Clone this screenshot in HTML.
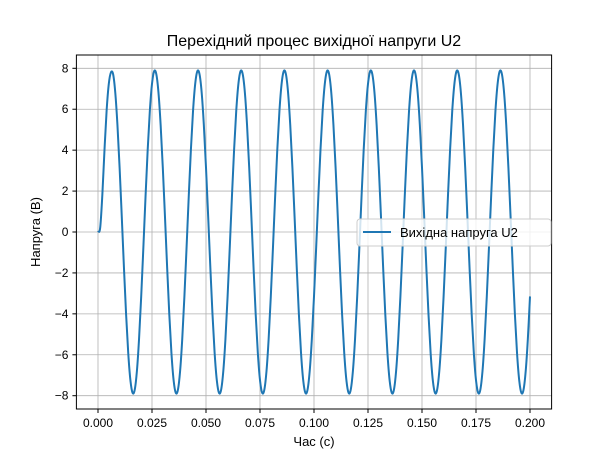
<!DOCTYPE html>
<html><head><meta charset="utf-8"><style>
body{margin:0;background:#fff;}
svg{display:block;font-family:"Liberation Sans","DejaVu Sans",sans-serif;}
</style></head><body>
<svg id="chart" width="600" height="465">
<rect width="600" height="465" fill="#fff"/>
<text x="314" y="46" text-anchor="middle" font-size="16" fill="#000">Перехідний процес вихідної напруги U2</text>
<g id="grid"></g>
<g id="xticks"></g>
<g id="yticks"></g>
<path id="line" fill="none" stroke="#1f77b4" stroke-width="2" stroke-linejoin="round"/>
<rect x="76.4" y="55" width="475.2" height="354" fill="none" stroke="#000" stroke-width="1"/>
<text x="314" y="446" text-anchor="middle" font-size="13">Час (с)</text>
<text transform="translate(40,232) rotate(-90)" text-anchor="middle" font-size="13">Напруга (В)</text>
<g>
<rect x="357" y="219" width="194" height="27" rx="3" fill="#fff" fill-opacity="0.8" stroke="#ccc"/>
<line x1="363" y1="232" x2="391" y2="232" stroke="#1f77b4" stroke-width="2"/>
<text x="400" y="237" font-size="13">Вихідна напруга U2</text>
</g>
</svg>
<script>
const xTicks=[0,0.025,0.05,0.075,0.1,0.125,0.15,0.175,0.2];
const xTickLabels=["0.000","0.025","0.050","0.075","0.100","0.125","0.150","0.175","0.200"];
const yTicks=[-8,-6,-4,-2,0,2,4,6,8];
const tStep=0.001;
const u2Values=[
0,0.2,1.8,4.0,5.95,7.24,7.8,7.71,6.81,5.23,3.15,0.76,-1.71,-4.01,-5.92,-7.24,-7.86,-7.71,-6.81,-5.23,
-3.15,-0.76,1.71,4.01,5.92,7.24,7.86,7.71,6.81,5.23,3.15,0.76,-1.71,-4.01,-5.92,-7.24,-7.86,-7.71,-6.81,-5.23,
-3.15,-0.76,1.71,4.01,5.92,7.24,7.86,7.71,6.81,5.23,3.15,0.76,-1.71,-4.01,-5.92,-7.24,-7.86,-7.71,-6.81,-5.23,
-3.15,-0.76,1.71,4.01,5.92,7.24,7.86,7.71,6.81,5.23,3.15,0.76,-1.71,-4.01,-5.92,-7.24,-7.86,-7.71,-6.81,-5.23,
-3.15,-0.76,1.71,4.01,5.92,7.24,7.86,7.71,6.81,5.23,3.15,0.76,-1.71,-4.01,-5.92,-7.24,-7.86,-7.71,-6.81,-5.23,
-3.15,-0.76,1.71,4.01,5.92,7.24,7.86,7.71,6.81,5.23,3.15,0.76,-1.71,-4.01,-5.92,-7.24,-7.86,-7.71,-6.81,-5.23,
-3.15,-0.76,1.71,4.01,5.92,7.24,7.86,7.71,6.81,5.23,3.15,0.76,-1.71,-4.01,-5.92,-7.24,-7.86,-7.71,-6.81,-5.23,
-3.15,-0.76,1.71,4.01,5.92,7.24,7.86,7.71,6.81,5.23,3.15,0.76,-1.71,-4.01,-5.92,-7.24,-7.86,-7.71,-6.81,-5.23,
-3.15,-0.76,1.71,4.01,5.92,7.24,7.86,7.71,6.81,5.23,3.15,0.76,-1.71,-4.01,-5.92,-7.24,-7.86,-7.71,-6.81,-5.23,
-3.15,-0.76,1.71,4.01,5.92,7.24,7.86,7.71,6.81,5.23,3.15,0.76,-1.71,-4.01,-5.92,-7.24,-7.86,-7.71,-6.81,-5.23,
-3.15
];
const NS="http://www.w3.org/2000/svg";
const L=76.4,R=551.6,T=55,B=409;
const xMin=-0.01,xMax=0.21,yMin=-8.65,yMax=8.65;
function sx(v){return L+(v-xMin)/(xMax-xMin)*(R-L);}
function sy(v){return B-(v-yMin)/(yMax-yMin)*(B-T);}
function mk(tag,attrs,parent){const e=document.createElementNS(NS,tag);for(const k in attrs)e.setAttribute(k,attrs[k]);parent.appendChild(e);return e;}
const grid=document.getElementById('grid'),gx=document.getElementById('xticks'),gy=document.getElementById('yticks');
xTicks.forEach((t,i)=>{
 const x=sx(t);
 const g=mk('line',{x1:x,x2:x,y1:T,y2:B,stroke:'#b0b0b0','stroke-width':0.8},grid);
 
 
 const tk=mk('line',{x1:x,x2:x,y1:B,y2:B+4,stroke:'#000'},gx);
 
 
 const tx=mk('text',{x:x,y:B+18,'text-anchor':'middle','font-size':12},gx);
 tx.textContent=xTickLabels[i];
 
 
});
yTicks.forEach(t=>{
 const y=sy(t);
 const g=mk('line',{x1:L,x2:R,y1:y,y2:y,stroke:'#b0b0b0','stroke-width':0.8},grid);
 
 
 const tk=mk('line',{x1:L-4,x2:L,y1:y,y2:y,stroke:'#000'},gy);
 
 
 const tx=mk('text',{x:L-8,y:y+4,'text-anchor':'end','font-size':12},gy);
 tx.textContent=t<0?'\u2212'+Math.abs(t):String(t);
 
 
});
const pts=u2Values.map((v,i)=>[sx(i*tStep),sy(v)]);
let d='M'+pts[0][0].toFixed(2)+','+pts[0][1].toFixed(2);
for(let i=0;i<pts.length-1;i++){
 const p0=pts[Math.max(0,i-1)],p1=pts[i],p2=pts[i+1],p3=pts[Math.min(pts.length-1,i+2)];
 const c1x=p1[0]+(p2[0]-p0[0])/6,c1y=p1[1]+(p2[1]-p0[1])/6;
 const c2x=p2[0]-(p3[0]-p1[0])/6,c2y=p2[1]-(p3[1]-p1[1])/6;
 d+='C'+c1x.toFixed(2)+','+c1y.toFixed(2)+' '+c2x.toFixed(2)+','+c2y.toFixed(2)+' '+p2[0].toFixed(2)+','+p2[1].toFixed(2);
}
document.getElementById('line').setAttribute('d',d);
</script>
</body></html>
